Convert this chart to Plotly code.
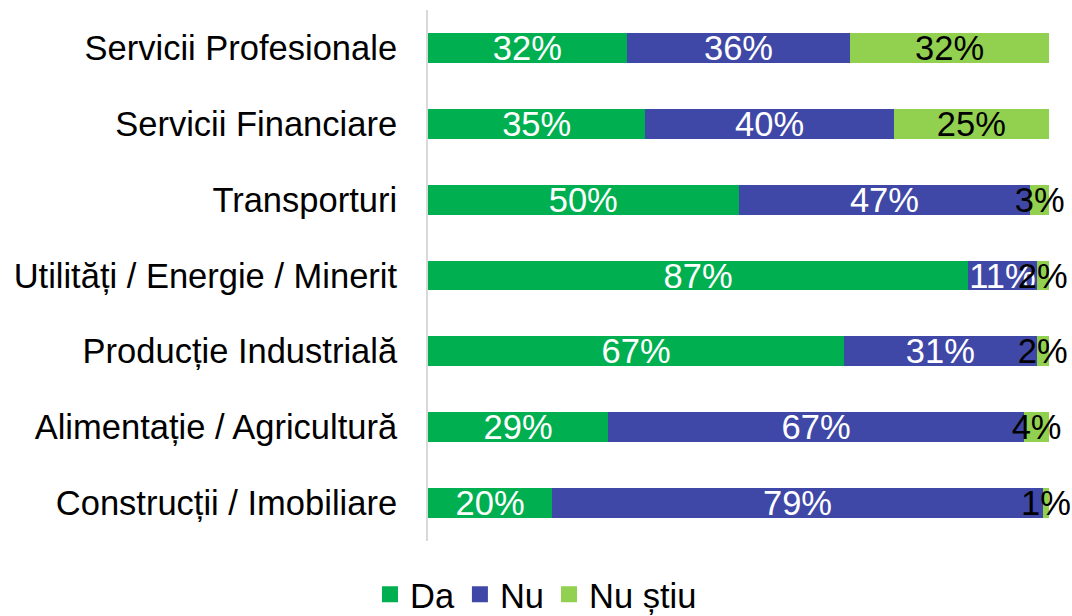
import plotly.graph_objects as go

categories = [
    "Servicii Profesionale",
    "Servicii Financiare",
    "Transporturi",
    "Utilități / Energie / Minerit",
    "Producție Industrială",
    "Alimentație / Agricultură",
    "Construcții / Imobiliare",
]
da = [32, 35, 50, 87, 67, 29, 20]
nu = [36, 40, 47, 11, 31, 67, 79]
nu_stiu = [32, 25, 3, 2, 2, 4, 1]

series = [
    ("Da", da, "#00B050", "white"),
    ("Nu", nu, "#3F48A6", "white"),
    ("Nu știu", nu_stiu, "#92D050", "black"),
]

FONT = "Liberation Sans, Arial, sans-serif"
FS = 34.5
fig = go.Figure()
for name, vals, color, tcol in series:
    fig.add_trace(go.Bar(
        y=categories, x=vals, orientation="h", name=name,
        marker=dict(color=color, line=dict(width=0)),
        text=[f"{v}%" for v in vals], textposition="inside",
        insidetextanchor="middle", constraintext="none", textangle=0,
        textfont=dict(color=tcol, size=FS, family=FONT),
        showlegend=False, cliponaxis=False,
    ))
# legend entries with larger square markers
for name, vals, color, tcol in series:
    fig.add_trace(go.Scatter(
        x=[None], y=[None], mode="markers", name=name,
        marker=dict(symbol="square", size=18, color=color),
        showlegend=True,
    ))

fig.update_layout(
    barmode="stack",
    bargap=0.605,
    width=1072, height=616,
    margin=dict(l=428, r=23, t=10, b=75, autoexpand=False),
    paper_bgcolor="white", plot_bgcolor="white",
    font=dict(family=FONT, size=FS, color="black"),
    legend=dict(orientation="h", xref="container", x=0.5, xanchor="center",
                yref="container", y=0.035, yanchor="middle",
                font=dict(size=FS), itemsizing="trace", traceorder="normal"),
    xaxis=dict(range=[0, 100], visible=False, fixedrange=True),
    yaxis=dict(autorange="reversed", showline=True, linecolor="#D9D9D9",
               linewidth=2, showgrid=False, ticks="", ticklabelstandoff=22,
               tickfont=dict(size=FS, family=FONT, color="black")),
)
fig.write_html("out.html", config={"displayModeBar": False},
               post_script="document.body.style.margin='0';")
